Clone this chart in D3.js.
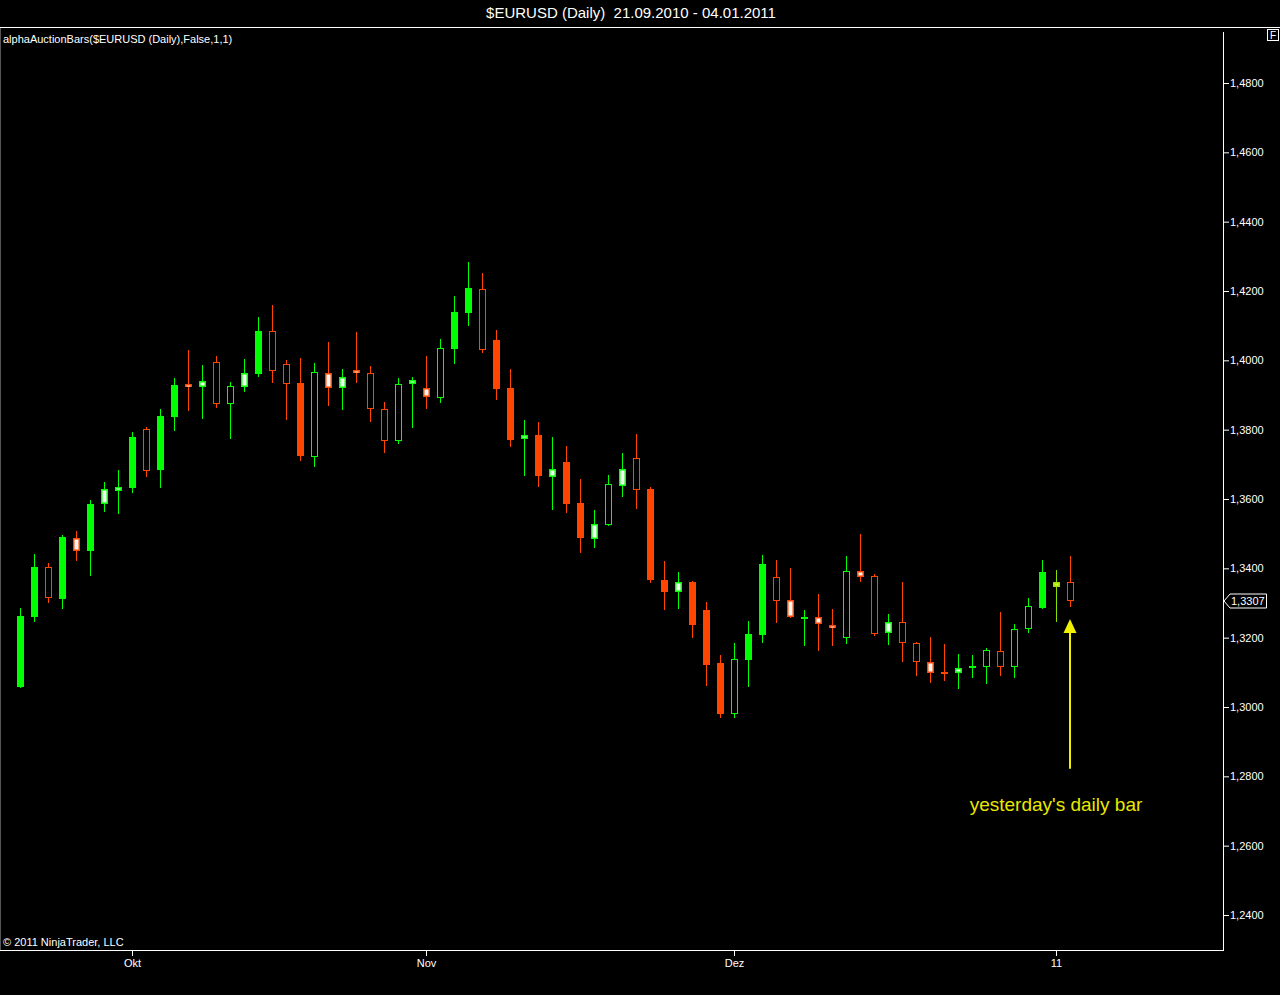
<!DOCTYPE html>
<html>
<head>
<meta charset="utf-8">
<script src="https://cdn.jsdelivr.net/npm/d3@7"></script>
<style>
  html, body { margin: 0; background: #000; }
  svg { display: block; font-family: "Liberation Sans", Arial, sans-serif; }
</style>
</head>
<body>
<svg id="chart" width="1280" height="995"></svg>
<script>
// daily OHLC, $EURUSD 21.09.2010 - 04.01.2011
const opens = [1.3058,1.3260,1.3404,1.3312,1.3487,1.3450,1.3586,1.3623,1.3632,1.3802,
  1.3684,1.3837,1.3932,1.3923,1.3995,1.3874,1.3923,1.3961,1.4085,1.3989,
  1.3935,1.3721,1.3963,1.3920,1.3972,1.3963,1.3860,1.3767,1.3932,1.3920,
  1.3891,1.4033,1.4137,1.4206,1.4059,1.3920,1.3773,1.3785,1.3663,1.3707,
  1.3588,1.3485,1.3525,1.3637,1.3718,1.3629,1.3366,1.3332,1.3361,1.3280,
  1.3127,1.2980,1.3136,1.3208,1.3375,1.3309,1.3258,1.3260,1.3237,1.3199,
  1.3392,1.3378,1.3213,1.3245,1.3185,1.3130,1.3101,1.3098,1.3113,1.3115,
  1.3162,1.3115,1.3225,1.3286,1.3346,1.3361];
const highs = [1.3286,1.3441,1.3415,1.3496,1.3508,1.3597,1.3649,1.3684,1.3793,1.3808,
  1.3860,1.3949,1.4030,1.3987,1.4012,1.3937,1.4004,1.4125,1.4160,1.4001,
  1.4007,1.3992,1.4053,1.3975,1.4082,1.3984,1.3880,1.3949,1.3952,1.4012,
  1.4062,1.4186,1.4284,1.4252,1.4087,1.3975,1.3828,1.3822,1.3779,1.3753,
  1.3658,1.3568,1.3669,1.3733,1.3788,1.3635,1.3421,1.3389,1.3363,1.3303,
  1.3150,1.3185,1.3248,1.3438,1.3424,1.3401,1.3280,1.3326,1.3283,1.3436,
  1.3499,1.3384,1.3268,1.3361,1.3188,1.3202,1.3182,1.3153,1.3150,1.3170,
  1.3274,1.3239,1.3314,1.3424,1.3395,1.3436];
const lows = [1.3055,1.3245,1.3300,1.3283,1.3421,1.3378,1.3562,1.3557,1.3617,1.3663,
  1.3632,1.3796,1.3854,1.3831,1.3862,1.3773,1.3909,1.3952,1.3935,1.3828,
  1.3710,1.3692,1.3868,1.3857,1.3935,1.3822,1.3733,1.3759,1.3805,1.3860,
  1.3877,1.3989,1.4099,1.4021,1.3886,1.3750,1.3666,1.3635,1.3568,1.3560,
  1.3444,1.3459,1.3522,1.3606,1.3571,1.3358,1.3280,1.3283,1.3199,1.3061,
  1.2968,1.2968,1.3058,1.3185,1.3242,1.3257,1.3176,1.3162,1.3176,1.3182,
  1.3361,1.3205,1.3179,1.3130,1.3089,1.3069,1.3075,1.3052,1.3084,1.3066,
  1.3089,1.3084,1.3213,1.3283,1.3245,1.3288];
const closes = [1.3262,1.3404,1.3314,1.3490,1.3450,1.3586,1.3629,1.3635,1.3779,1.3681,
  1.3839,1.3929,1.3923,1.3940,1.3874,1.3926,1.3963,1.4085,1.3969,1.3932,
  1.3724,1.3966,1.3920,1.3952,1.3963,1.3860,1.3767,1.3932,1.3943,1.3894,
  1.4036,1.4139,1.4209,1.4030,1.3917,1.3770,1.3785,1.3666,1.3687,1.3586,
  1.3487,1.3528,1.3643,1.3687,1.3626,1.3366,1.3332,1.3361,1.3237,1.3121,
  1.2980,1.3138,1.3211,1.3413,1.3306,1.3260,1.3261,1.3239,1.3228,1.3392,
  1.3375,1.3211,1.3245,1.3185,1.3130,1.3098,1.3095,1.3113,1.3118,1.3164,
  1.3115,1.3225,1.3291,1.3389,1.3361,1.3307];
// auction bar body style: F filled, H hollow, W light fill, Y highlighted
const styles = ["F","F","H","F","W","F","W","W","F","H",
  "F","F","W","W","H","H","W","F","H","H",
  "F","H","W","W","W","H","H","H","W","W",
  "H","F","F","H","F","F","W","F","W","F",
  "F","W","H","W","H","F","F","W","F","F",
  "F","H","F","F","H","W","F","W","W","H",
  "W","H","W","H","H","W","F","W","W","H",
  "H","H","H","F","Y","H"];

const monthTicks = ["2010-10-01","2010-11-01","2010-12-01","2011-01-03"];
const monthLabels = ["Okt","Nov","Dez","11"];
const yTicks = [1.24,1.26,1.28,1.30,1.32,1.34,1.36,1.38,1.40,1.42,1.44,1.46,1.48];

const arrowFrom = 1.2822, arrowTo = 1.3254;
const note = "yesterday's daily bar";

const upColor = "#00ff00", downColor = "#ff4500";

const fmtKey = d3.timeFormat("%Y-%m-%d");
const days = d3.timeDay.range(new Date(2010, 8, 21), new Date(2011, 0, 5))
  .filter(d => d.getDay() % 6 !== 0)
  .map(fmtKey);

const bars = days.map((day, i) => ({
  day, open: opens[i], high: highs[i], low: lows[i], close: closes[i], style: styles[i]
}));

const de = d3.formatLocale({decimal: ",", thousands: ".", grouping: [3], currency: ["", ""]});
const fmt = de.format(".4f");

const svg = d3.select("#chart");
const W = 1280, axisX = 1223, plotBottom = 950;

const x = d3.scalePoint().domain(days).range([20, 1070]);
const y = d3.scaleLinear().domain([1.24, 1.48]).range([915, 83]);

// frame
svg.append("rect").attr("width", W).attr("height", 995).attr("fill", "#000");
svg.append("text")
  .attr("x", 631).attr("y", 18)
  .attr("text-anchor", "middle")
  .attr("fill", "#fff").style("font-size", "15px")
  .text("$EURUSD (Daily)\u00a0 21.09.2010 - 04.01.2011");

svg.append("line").attr("x1", 0).attr("x2", W).attr("y1", 27.5).attr("y2", 27.5)
  .attr("stroke", "#fff");
svg.append("line").attr("x1", 0.5).attr("x2", 0.5).attr("y1", 28).attr("y2", plotBottom)
  .attr("stroke", "#555");
svg.append("line").attr("x1", axisX + 0.5).attr("x2", axisX + 0.5).attr("y1", 32).attr("y2", plotBottom)
  .attr("stroke", "#fff");
svg.append("line").attr("x1", 0).attr("x2", axisX + 1).attr("y1", plotBottom + 0.5).attr("y2", plotBottom + 0.5)
  .attr("stroke", "#fff");

svg.append("rect").attr("x", 1267.5).attr("y", 29.5).attr("width", 11).attr("height", 11)
  .attr("fill", "none").attr("stroke", "#fff");
svg.append("text").attr("x", 1273).attr("y", 39).attr("text-anchor", "middle")
  .attr("fill", "#fff").style("font-size", "10px").text("F");

svg.append("text").attr("x", 3).attr("y", 43).attr("fill", "#fff").style("font-size", "11px")
  .text("alphaAuctionBars($EURUSD (Daily),False,1,1)");
svg.append("text").attr("x", 3).attr("y", 946).attr("fill", "#fff").style("font-size", "11px")
  .text("\u00a9 2011 NinjaTrader, LLC");

// right price axis
const yAxis = d3.axisRight(y).tickValues(yTicks).tickSize(6).tickPadding(1).tickFormat(fmt);
const gy = svg.append("g").attr("transform", `translate(${axisX},0)`).call(yAxis);
gy.select(".domain").remove();
gy.selectAll(".tick line").attr("stroke", "#fff");
gy.selectAll(".tick text").attr("fill", "#fff").style("font-size", "11px")
  .style("font-family", "'Liberation Sans', Arial, sans-serif");

// time axis
const xAxis = d3.axisBottom(x).tickValues(monthTicks).tickSize(5).tickPadding(3)
  .tickFormat(d => monthLabels[monthTicks.indexOf(d)]);
const gx = svg.append("g").attr("transform", `translate(0,${plotBottom + 1})`).call(xAxis);
gx.select(".domain").remove();
gx.selectAll(".tick line").attr("stroke", "#fff");
gx.selectAll(".tick text").attr("fill", "#fff").style("font-size", "11px")
  .style("font-family", "'Liberation Sans', Arial, sans-serif");

// candles: wick, then outer body in bar colour, then inner fill for hollow / light bars
const bodyW = 7;
const col = d => d.close >= d.open ? upColor : downColor;
const cx = d => Math.round(x(d.day));
const bodyTop = d => Math.round(y(Math.max(d.open, d.close)));
const bodyH = d => Math.max(2, Math.round(Math.abs(y(d.open) - y(d.close))));

const g = svg.append("g").attr("shape-rendering", "crispEdges");
const candle = g.selectAll("g.bar").data(bars).enter().append("g").attr("class", "bar");

candle.append("rect")
  .attr("x", cx)
  .attr("y", d => y(d.high))
  .attr("width", 1)
  .attr("height", d => y(d.low) - y(d.high))
  .attr("fill", d => d.style === "Y" ? "#88dd00" : col(d));

candle.append("rect")
  .attr("x", d => cx(d) - 3)
  .attr("y", bodyTop)
  .attr("width", bodyW)
  .attr("height", bodyH)
  .attr("fill", d => d.style === "Y" ? "#99e000" : col(d));

const inset = d => d.style === "H" ? 1 : 1.5;
candle.filter(d => d.style !== "F" && bodyH(d) > 2).append("rect")
  .attr("shape-rendering", "auto")
  .attr("x", d => cx(d) - 3 + inset(d))
  .attr("y", d => bodyTop(d) + inset(d))
  .attr("width", d => bodyW - 2 * inset(d))
  .attr("height", d => Math.max(1, bodyH(d) - 2 * inset(d)))
  .attr("fill", d => {
    if (d.style === "H") return "#000";
    if (d.style === "Y") return "#d4f53c";
    return d.close >= d.open ? "#f4fff4" : "#fff4ef";
  });

// last price marker
const last = bars[bars.length - 1];
const py = Math.round(y(last.close));
svg.append("path")
  .attr("d", `M${axisX + 1},${py} L${axisX + 7},${py - 7} H1266.5 V${py + 7} H${axisX + 7} Z`)
  .attr("fill", "#000").attr("stroke", "#fff");
svg.append("text").attr("x", axisX + 8).attr("y", py + 4)
  .attr("fill", "#fff").style("font-size", "11px").text(fmt(last.close));

// annotation arrow under yesterday's bar
const ax = x(last.day);
svg.append("line")
  .attr("x1", ax).attr("x2", ax)
  .attr("y1", y(arrowFrom)).attr("y2", y(arrowTo) + 12)
  .attr("stroke", "#f0f000").attr("stroke-width", 2);
svg.append("path")
  .attr("d", `M${ax},${y(arrowTo)} L${ax + 6.5},${y(arrowTo) + 14} L${ax - 6.5},${y(arrowTo) + 14} Z`)
  .attr("fill", "#f0f000");
svg.append("text")
  .attr("x", ax - 14).attr("y", y(arrowFrom) + 42)
  .attr("text-anchor", "middle")
  .attr("fill", "#e8e800").style("font-size", "19px")
  .text(note);
</script>
</body>
</html>
